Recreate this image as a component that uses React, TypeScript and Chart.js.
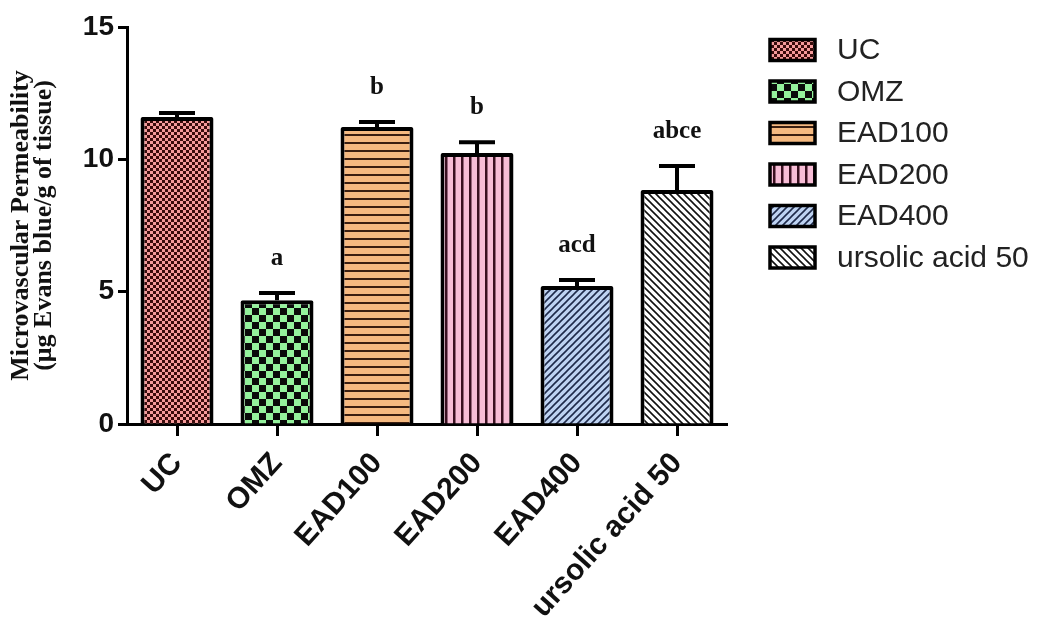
import React, { useEffect, useRef } from "react";
import { Chart, registerables } from "chart.js";

Chart.register(...registerables);

const categories = ["UC", "OMZ", "EAD100", "EAD200", "EAD400", "ursolic acid 50"];
const meanValues = [11.6, 4.68, 11.22, 10.24, 5.21, 8.84];
const semValues = [0.15, 0.27, 0.19, 0.41, 0.23, 0.91];
const sigLabels = ["", "a", "b", "b", "acd", "abce"];
const yTicks = [0, 5, 10, 15];
const yTitle = ["Microvascular Permeability", "(μg Evans blue/g of tissue)"];

type PatternKind = "fineCheck" | "bigCheck" | "hLines" | "vLines" | "diagUp" | "diagDown";
const patternKinds: PatternKind[] = ["fineCheck", "bigCheck", "hLines", "vLines", "diagUp", "diagDown"];
const patternBg = ["#f59a9a", "#94f29c", "#f5b980", "#f7bdd6", "#bed3f2", "#ffffff"];
const patternFg = ["#3a0c0c", "#0a0a0a", "#3a1e10", "#3a1020", "#1e2a4a", "#111111"];

function makePattern(kind: PatternKind, bg: string, fg: string): CanvasPattern | string {
  const c = document.createElement("canvas");
  let p = 8;
  if (kind === "fineCheck") p = 6;
  if (kind === "bigCheck") p = 14;
  if (kind === "diagUp" || kind === "diagDown") p = 7;
  c.width = p;
  c.height = p;
  const g = c.getContext("2d");
  if (!g) return bg;
  g.fillStyle = bg;
  g.fillRect(0, 0, p, p);
  g.fillStyle = fg;
  g.strokeStyle = fg;
  if (kind === "fineCheck" || kind === "bigCheck") {
    const h = p / 2;
    g.fillRect(0, 0, h, h);
    g.fillRect(h, h, h, h);
  } else if (kind === "hLines") {
    g.fillRect(0, p - 2, p, 2);
  } else if (kind === "vLines") {
    g.fillRect(p - 3, 0, 2.5, p);
  } else {
    g.lineWidth = 1.6;
    g.beginPath();
    if (kind === "diagUp") {
      g.moveTo(0, p); g.lineTo(p, 0);
      g.moveTo(-p / 2, p / 2); g.lineTo(p / 2, -p / 2);
      g.moveTo(p / 2, p * 1.5); g.lineTo(p * 1.5, p / 2);
    } else {
      g.moveTo(0, 0); g.lineTo(p, p);
      g.moveTo(-p / 2, p / 2); g.lineTo(p / 2, p * 1.5);
      g.moveTo(p / 2, -p / 2); g.lineTo(p * 1.5, p / 2);
    }
    g.stroke();
  }
  const ctx = document.createElement("canvas").getContext("2d");
  const pat = ctx ? ctx.createPattern(c, "repeat") : null;
  return pat || bg;
}

export default function App() {
  const ref = useRef<HTMLCanvasElement | null>(null);

  useEffect(() => {
    if (!ref.current) return;
    const fills = patternKinds.map((k, i) => makePattern(k, patternBg[i], patternFg[i]));

    const errorBars = {
      id: "errorBars",
      afterDatasetsDraw(chart: any) {
        const meta = chart.getDatasetMeta(0);
        const ys = chart.scales.y;
        const ctx = chart.ctx;
        ctx.save();
        ctx.strokeStyle = "#000";
        ctx.lineWidth = 4;
        ctx.lineCap = "butt";
        meta.data.forEach((el: any, i: number) => {
          const top = ys.getPixelForValue(meanValues[i] + semValues[i]);
          ctx.beginPath();
          ctx.moveTo(el.x, el.y);
          ctx.lineTo(el.x, top);
          ctx.moveTo(el.x - 18, top);
          ctx.lineTo(el.x + 18, top);
          ctx.stroke();
          if (sigLabels[i]) {
            ctx.fillStyle = "#111";
            ctx.font = "bold 25px 'Liberation Serif', 'Times New Roman', serif";
            ctx.textAlign = "center";
            ctx.textBaseline = "alphabetic";
            ctx.fillText(sigLabels[i], el.x, top - 28);
          }
        });
        ctx.restore();
      },
    };

    const legendPlugin = {
      id: "customLegend",
      afterDraw(chart: any) {
        const ctx = chart.ctx;
        ctx.save();
        categories.forEach((name, i) => {
          const cy = 50 + i * 41.5;
          const bx = 770;
          const bw = 45;
          const bh = 21;
          ctx.fillStyle = fills[i];
          ctx.fillRect(bx, cy - bh / 2, bw, bh);
          ctx.strokeStyle = "#000";
          ctx.lineWidth = 3.5;
          ctx.strokeRect(bx, cy - bh / 2, bw, bh);
          ctx.fillStyle = "#222";
          ctx.font = "30px 'Liberation Sans', Arial, sans-serif";
          ctx.textAlign = "left";
          ctx.textBaseline = "middle";
          ctx.fillText(name, 837, cy + 1);
        });
        ctx.restore();
      },
    };

    const chart = new Chart(ref.current, {
      type: "bar",
      data: {
        labels: categories,
        datasets: [
          {
            data: meanValues,
            backgroundColor: fills as any,
            borderColor: "#000",
            borderWidth: 4,
            borderRadius: 2,
            borderSkipped: "start",
            categoryPercentage: 1,
            barPercentage: 0.73,
          },
        ],
      },
      options: {
        animation: false,
        responsive: false,
        devicePixelRatio: 1,
        layout: { padding: { top: 27, right: 329, left: 0, bottom: 0 } },
        plugins: { legend: { display: false }, tooltip: { enabled: false } },
        scales: {
          x: {
            grid: { display: true, drawOnChartArea: false, offset: false, tickLength: 12, tickWidth: 3, tickColor: "#000" },
            border: { display: true, color: "#000", width: 3 },
            ticks: {
              color: "#111",
              maxRotation: 48,
              minRotation: 48,
              padding: 10,
              font: { family: "'Liberation Sans', Arial, sans-serif", size: 30, weight: "bold" },
            },
            afterFit: (s: any) => { s.height = 619 - 424; },
          },
          y: {
            min: 0,
            max: 15,
            afterBuildTicks: (s: any) => { s.ticks = yTicks.map((v) => ({ value: v })); },
            grid: { display: true, drawOnChartArea: false, tickLength: 9, tickWidth: 3, tickColor: "#000" },
            border: { display: true, color: "#000", width: 3 },
            ticks: {
              color: "#111",
              padding: 4,
              font: { family: "'Liberation Sans', Arial, sans-serif", size: 28, weight: "bold" },
            },
            title: {
              display: true,
              text: yTitle,
              color: "#111",
              padding: { top: 10, bottom: 0 },
              font: { family: "'Liberation Serif', 'Times New Roman', serif", size: 26, weight: "bold", lineHeight: 0.88 },
            },
            afterFit: (s: any) => { s.width = 127; },
          },
        },
      },
      plugins: [errorBars, legendPlugin],
    });
    return () => chart.destroy();
  }, []);

  return (
    <div style={{ position: "absolute", left: 0, top: 0, width: 1056, height: 619, background: "#fff" }}>
      <canvas ref={ref} width={1056} height={619} style={{ display: "block" }} />
    </div>
  );
}
